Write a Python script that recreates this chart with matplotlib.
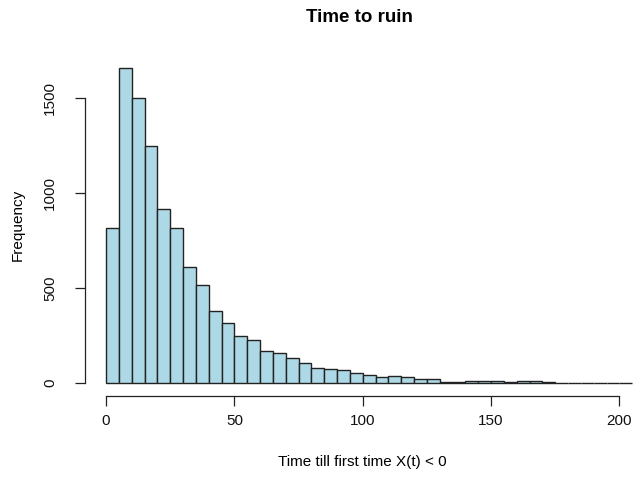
import numpy as np
import matplotlib
matplotlib.use("Agg")
import matplotlib.pyplot as plt

plt.rcParams['font.family'] = ['Liberation Sans', 'DejaVu Sans']

# histogram of ruin times, bin width 5
bin_edges = np.arange(0, 210, 5)
counts = [816, 1653, 1500, 1247, 916, 815, 611, 515, 378, 315,
          247, 226, 168, 156, 131, 103, 79, 72, 68, 51,
          42, 30, 37, 30, 23, 23, 7, 7, 12, 12,
          9, 4, 10, 10, 3, 2, 2, 1, 0, 1, 1]
x_ticks = [0, 50, 100, 150, 200]
y_ticks = [0, 500, 1000, 1500]

W, H = 643, 478
fig = plt.figure(figsize=(W / 100, H / 100), dpi=100)
ax = fig.add_axes([0, 0, 1, 1])
ax.patch.set_alpha(0)

# pixel mapping of the original R device
x0_px, px_per_x = 106, 2.567
y0_px, px_per_y = 383, 0.19033
ax.set_xlim(-x0_px / px_per_x, (W - x0_px) / px_per_x)
ax.set_ylim((y0_px - H) / px_per_y, y0_px / px_per_y)

ax.bar(bin_edges[:-1], counts, width=5, align='edge',
       color='#ADD8E6', edgecolor='#222222', linewidth=1.0)

for s in ['top', 'right']:
    ax.spines[s].set_visible(False)
ax.spines['bottom'].set_position(('data', (y0_px - 396) / px_per_y))
ax.spines['bottom'].set_bounds(0, 200)
ax.spines['left'].set_position(('data', (85 - x0_px) / px_per_x))
ax.spines['left'].set_bounds(0, 1500)
for s in ['bottom', 'left']:
    ax.spines[s].set_linewidth(0.9)
    ax.spines[s].set_color('#222222')

ax.set_xticks(x_ticks)
ax.set_yticks(y_ticks)
ax.tick_params(axis='both', length=7, width=0.9, color='#222222',
               labelsize=11, labelcolor='#111111')
ax.tick_params(axis='x', pad=6)
ax.tick_params(axis='y', pad=13)
plt.setp(ax.get_yticklabels(), rotation=90, va='center')

fig.text(362 / W, 1 - 462 / H, 'Time till first time X(t) < 0',
         ha='center', va='center', fontsize=11)
fig.text(18 / W, 1 - 225 / H, 'Frequency', rotation=90,
         ha='center', va='center', fontsize=11)
fig.text(359 / W, 1 - 17 / H, 'Time to ruin', ha='center', va='center',
         fontsize=13.5, fontweight='bold')

fig.savefig('out.png', dpi=100)
